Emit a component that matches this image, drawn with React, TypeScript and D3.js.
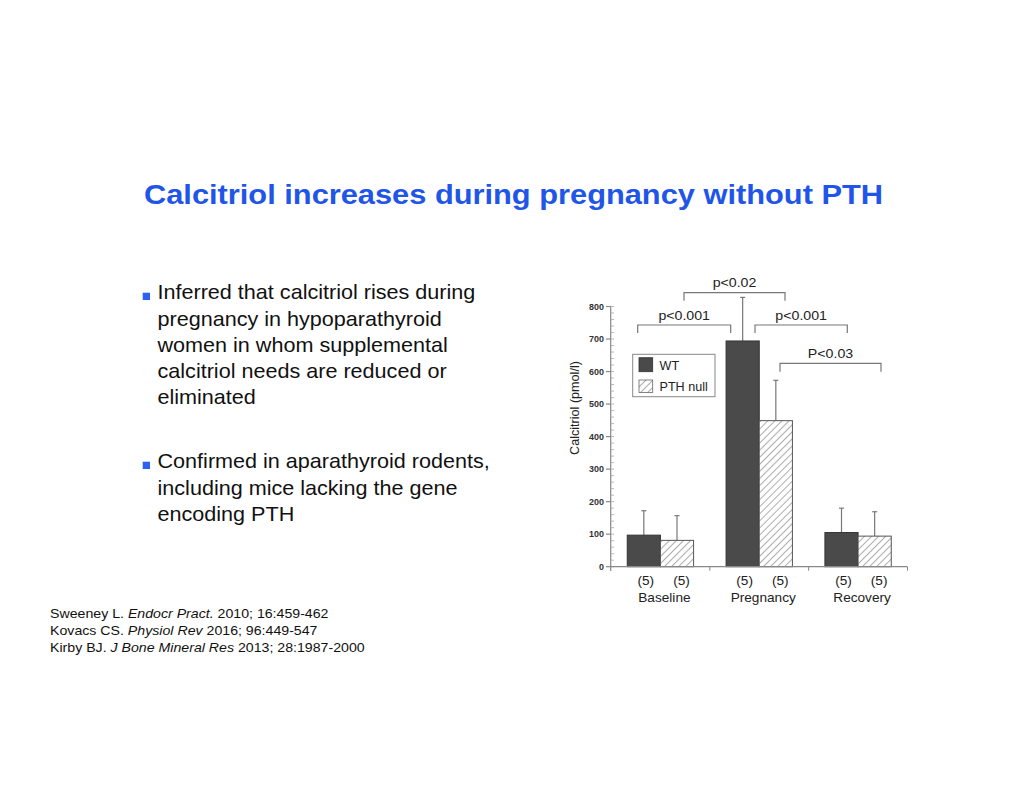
import React from "react";
import * as d3 from "d3";

const groups = ["Baseline", "Pregnancy", "Recovery"];
const seriesNames = ["WT", "PTH null"];
const wtMeans = [97, 694, 105];
const wtErrors = [172, 828, 180];
const pthMeans = [81, 449, 94];
const pthErrors = [157, 573, 169];
const sampleSizes = [["(5)", "(5)"], ["(5)", "(5)"], ["(5)", "(5)"]];
const yTicks = [0, 100, 200, 300, 400, 500, 600, 700, 800];
const sigLabels = ["p<0.02", "p<0.001", "p<0.001", "P<0.03"];
const bullet1 = [
  "Inferred that calcitriol rises during",
  "pregnancy in hypoparathyroid",
  "women in whom supplemental",
  "calcitriol needs are reduced or",
  "eliminated",
];
const bullet2 = [
  "Confirmed in aparathyroid rodents,",
  "including mice lacking the gene",
  "encoding PTH",
];
const refs = [
  ["Sweeney L. ", "Endocr Pract.", " 2010; 16:459-462"],
  ["Kovacs CS. ", "Physiol Rev", " 2016; 96:449-547"],
  ["Kirby BJ. ", "J Bone Mineral Res", " 2013; 28:1987-2000"],
];

function T({ x, y, sx = 1, children, ...rest }: any) {
  return (
    <text transform={`translate(${x},${y}) scale(${sx},1)`} {...rest}>{children}</text>
  );
}

export default function App() {
  const W = 1024, H = 791;
  const font = "'Liberation Sans', Arial, Helvetica, sans-serif";
  const y = d3.scaleLinear().domain([0, 800]).range([566.7, 306.5]);
  const x0 = d3.scaleBand<string>().domain(groups).range([611, 907.5]).padding(0);
  const x1 = d3.scaleBand<string>().domain(seriesNames).range([0, x0.bandwidth()]).paddingInner(0).paddingOuter(0.49);
  const minor = d3.range(0, 801, 20);
  const data = [
    { name: "WT", means: wtMeans, errs: wtErrors },
    { name: "PTH null", means: pthMeans, errs: pthErrors },
  ];
  const bw = x1.bandwidth();
  const cx = (g: number, s: number) => (x0(groups[g]) as number) + (x1(seriesNames[s]) as number) + bw / 2;

  const brackets = [
    { x1: 684, x2: 785, top: 292.7, leg: 8, label: sigLabels[0] },
    { x1: 637.7, x2: 730.7, top: 325, leg: 8, label: sigLabels[1] },
    { x1: 755, x2: 847.3, top: 325, leg: 8, label: sigLabels[2] },
    { x1: 780, x2: 881, top: 363.3, leg: 8.5, label: sigLabels[3] },
  ];
  const csx = 1.05;

  return (
    <svg width={W} height={H} style={{ position: "absolute", left: 0, top: 0 }} fontFamily={font}>
      <defs>
        <pattern id="hatch" patternUnits="userSpaceOnUse" width="5" height="5" patternTransform="rotate(45)">
          <rect width="5" height="5" fill="#fff" />
          <line x1="0" y1="0" x2="0" y2="5" stroke="#6a6a6a" strokeWidth="1.1" />
        </pattern>
      </defs>
      <rect width={W} height={H} fill="#fff" />
      <T x={513.5} y={204} sx={1.1} textAnchor="middle" fontSize={28} fontWeight="bold" fill="#1f55e8">
        Calcitriol increases during pregnancy without PTH
      </T>

      <rect x={142.7} y={292.7} width={7.3} height={7.3} fill="#2d5ff0" />
      {bullet1.map((t, i) => (
        <T key={"b1" + i} x={157.5} y={299.3 + i * 26.25} sx={1.08} fontSize={20} fill="#111">{t}</T>
      ))}
      <rect x={142.7} y={461.7} width={7.3} height={7.3} fill="#2d5ff0" />
      {bullet2.map((t, i) => (
        <T key={"b2" + i} x={157.5} y={468.3 + i * 26.25} sx={1.08} fontSize={20} fill="#111">{t}</T>
      ))}

      {refs.map((r, i) => (
        <T key={"r" + i} x={50} y={617.7 + i * 17.2} sx={1.09} fontSize={13} fill="#111">
          {r[0]}<tspan fontStyle="italic">{r[1]}</tspan>{r[2]}
        </T>
      ))}

      <g>
        {data.map((s, si) =>
          s.means.map((v, gi) => {
            const bx = (x0(groups[gi]) as number) + (x1(s.name) as number);
            return (
              <g key={s.name + gi}>
                <line x1={bx + bw / 2} x2={bx + bw / 2} y1={y(s.errs[gi])} y2={y(v)} stroke="#777" strokeWidth={1.2} />
                <line x1={bx + bw / 2 - 2.5} x2={bx + bw / 2 + 2.5} y1={y(s.errs[gi])} y2={y(s.errs[gi])} stroke="#777" strokeWidth={1.2} />
                <rect x={bx} y={y(v)} width={bw} height={y(0) - y(v)}
                  fill={si === 0 ? "#4a4a4a" : "url(#hatch)"} stroke={si === 0 ? "#333" : "#555"} strokeWidth={1} />
              </g>
            );
          })
        )}
        <line x1={610.7} x2={610.7} y1={y(800)} y2={571} stroke="#888" strokeWidth={1.2} />
        {minor.map((v) => (
          <line key={"m" + v} x1={610.7} x2={614} y1={y(v)} y2={y(v)} stroke="#aaa" strokeWidth={0.8} />
        ))}
        {yTicks.map((v) => (
          <g key={"t" + v}>
            <line x1={606} x2={610.7} y1={y(v)} y2={y(v)} stroke="#888" strokeWidth={1.2} />
            <T x={604} y={y(v) + 3} sx={csx} textAnchor="end" fontSize={8.5} fontWeight="bold" fill="#333">{v}</T>
          </g>
        ))}
        <line x1={610.7} x2={x0.range()[1]} y1={y(0)} y2={y(0)} stroke="#888" strokeWidth={1.2} />
        {groups.map((g) => (
          <line key={"gt" + g} x1={(x0(g) as number) + x0.bandwidth()} x2={(x0(g) as number) + x0.bandwidth()}
            y1={y(0)} y2={y(0) + 4} stroke="#888" strokeWidth={1} />
        ))}
        {groups.map((g, gi) => (
          <g key={"gl" + g}>
            {sampleSizes[gi].map((n, si) => (
              <T key={si} x={cx(gi, si) + (si === 0 ? 2 : 4.5)} y={585} sx={csx} textAnchor="middle" fontSize={13} fill="#222">{n}</T>
            ))}
            <T x={(x0(g) as number) + x0.bandwidth() / 2 + 4} y={601.7} sx={csx} textAnchor="middle" fontSize={13} fill="#222">{g}</T>
          </g>
        ))}
        <text transform="translate(579,408) rotate(-90) scale(1.05,1)" textAnchor="middle" fontSize={12} fill="#222">Calcitriol (pmol/l)</text>

        <rect x={632.7} y={354.3} width={82.3} height={42.4} fill="#fff" stroke="#888" strokeWidth={1} />
        <rect x={639} y={357.7} width={13.7} height={14} fill="#4a4a4a" stroke="#333" strokeWidth={0.8} />
        <rect x={639} y={380} width={13.7} height={12.5} fill="url(#hatch)" stroke="#666" strokeWidth={0.8} />
        <T x={659.5} y={369.5} sx={csx} fontSize={12} fill="#222">{seriesNames[0]}</T>
        <T x={659.5} y={390.5} sx={csx} fontSize={12} fill="#222">{seriesNames[1]}</T>

        {brackets.map((b, i) => (
          <g key={"br" + i}>
            <path d={`M${b.x1},${b.top + b.leg}V${b.top}H${b.x2}V${b.top + b.leg}`} fill="none" stroke="#777" strokeWidth={1.2} />
            <T x={(b.x1 + b.x2) / 2} y={b.top - 5.5} sx={csx} textAnchor="middle" fontSize={13.5} fill="#222">{b.label}</T>
          </g>
        ))}
      </g>
    </svg>
  );
}
